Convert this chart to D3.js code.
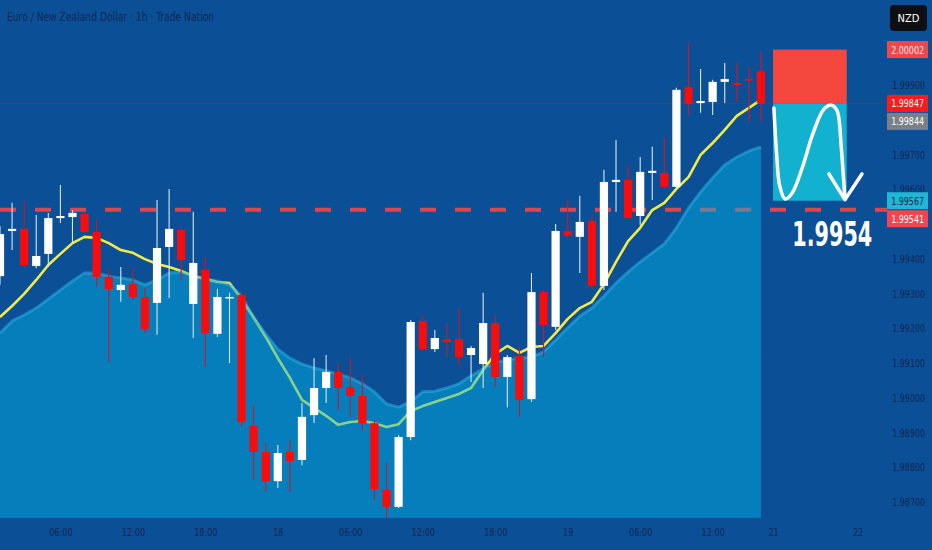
<!DOCTYPE html>
<html>
<head>
<meta charset="utf-8">
<script src="https://cdn.jsdelivr.net/npm/d3@7"></script>
<style>
  html, body { margin: 0; padding: 0; background: #0b4f97; }
  svg { display: block; }
  .narrow { font-family: 'Liberation Sans Narrow', 'DejaVu Sans Condensed', 'Roboto', sans-serif; }
</style>
</head>
<body>
<svg id="chart" width="932" height="550"></svg>
<script>
// ---------------- DATA ----------------
const title = "Euro / New Zealand Dollar · 1h · Trade Nation";
const currency = "NZD";

const candleOpen = [1.99350,1.99480,1.99486,1.99379,1.99414,1.99517,1.99520,1.99529,1.99477,1.99348,
  1.99310,1.99327,1.99290,1.99273,1.99434,1.99483,1.99270,1.99368,1.99184,1.99287,
  1.99296,1.98919,1.98844,1.98760,1.98844,1.98821,1.98950,1.99028,1.99074,1.99031,
  1.99005,1.98927,1.98735,1.98686,1.98887,1.99221,1.99140,1.99169,1.99169,1.99123,
  1.99097,1.99215,1.99060,1.99120,1.98996,1.99304,1.99204,1.99480,1.99463,1.99509,
  1.99322,1.99621,1.99627,1.99523,1.99647,1.99647,1.99607,1.99894,1.99848,1.99851,
  1.99909,1.99906,1.99917,1.99940];
const candleHigh = [1.99494,1.99561,1.99566,1.99526,1.99532,1.99612,1.99540,1.99532,1.99512,1.99368,
  1.99376,1.99373,1.99316,1.99569,1.99601,1.99489,1.99535,1.99405,1.99313,1.99302,
  1.99302,1.98979,1.98870,1.98864,1.98878,1.98985,1.99114,1.99123,1.99100,1.99117,
  1.99066,1.98936,1.98812,1.98893,1.99224,1.99238,1.99195,1.99215,1.99258,1.99149,
  1.99302,1.99238,1.99123,1.99146,1.99359,1.99310,1.99500,1.99569,1.99581,1.99526,
  1.99656,1.99742,1.99670,1.99693,1.99722,1.99750,1.99892,2.00021,1.99946,1.99915,
  1.99963,1.99963,1.99952,1.99998];
const candleLow = [1.99325,1.99425,1.99373,1.99373,1.99376,1.99503,1.99448,1.99474,1.99319,1.99103,
  1.99276,1.99281,1.99186,1.99181,1.99287,1.99339,1.99172,1.99089,1.99175,1.99100,
  1.98916,1.98763,1.98729,1.98740,1.98729,1.98806,1.98927,1.98985,1.98965,1.98945,
  1.98907,1.98706,1.98654,1.98683,1.98878,1.99137,1.99132,1.99117,1.99094,1.99045,
  1.99028,1.99031,1.98973,1.98945,1.98988,1.99117,1.99195,1.99454,1.99359,1.99313,
  1.99310,1.99535,1.99514,1.99497,1.99569,1.99604,1.99601,1.99814,1.99820,1.99814,
  1.99848,1.99851,1.99794,1.99794];
const candleClose = [1.99471,1.99486,1.99382,1.99408,1.99517,1.99523,1.99532,1.99477,1.99348,1.99313,
  1.99325,1.99290,1.99198,1.99431,1.99486,1.99396,1.99388,1.99186,1.99290,1.99290,
  1.98930,1.98844,1.98760,1.98841,1.98818,1.98945,1.99028,1.99074,1.99028,1.99005,
  1.98927,1.98737,1.98686,1.98887,1.99218,1.99140,1.99172,1.99160,1.99117,1.99143,
  1.99215,1.99060,1.99117,1.98994,1.99304,1.99209,1.99480,1.99466,1.99506,1.99322,
  1.99621,1.99627,1.99517,1.99650,1.99653,1.99607,1.99886,1.99845,1.99854,1.99909,
  1.99917,1.99900,1.99915,1.99847];

// fast moving average (yellow line)
const emaFast = [1.99232,1.99264,1.99299,1.99339,1.99382,1.99414,1.99445,1.99463,1.99460,1.99445,
  1.99425,1.99417,1.99399,1.99385,1.99376,1.99365,1.99350,1.99342,1.99333,1.99330,
  1.99284,1.99230,1.99175,1.99114,1.99057,1.98994,1.98971,1.98948,1.98922,1.98930,
  1.98933,1.98927,1.98916,1.98924,1.98962,1.98976,1.98988,1.98999,1.99011,1.99028,
  1.99080,1.99126,1.99149,1.99129,1.99146,1.99149,1.99186,1.99227,1.99258,1.99276,
  1.99327,1.99391,1.99451,1.99489,1.99540,1.99561,1.99601,1.99635,1.99699,1.99733,
  1.99771,1.99811,1.99834,1.99857];
// slow moving average (filled area)
const emaSlow = [1.99186,1.99221,1.99238,1.99258,1.99284,1.99310,1.99336,1.99359,1.99359,1.99350,
  1.99345,1.99339,1.99325,1.99339,1.99359,1.99362,1.99350,1.99342,1.99336,1.99325,
  1.99293,1.99232,1.99184,1.99140,1.99114,1.99097,1.99086,1.99077,1.99068,1.99057,
  1.99040,1.99017,1.98982,1.98973,1.98988,1.99017,1.99019,1.99028,1.99040,1.99063,
  1.99083,1.99100,1.99109,1.99114,1.99117,1.99132,1.99166,1.99201,1.99235,1.99258,
  1.99293,1.99330,1.99362,1.99391,1.99417,1.99443,1.99489,1.99546,1.99592,1.99633,
  1.99670,1.99693,1.99710,1.99722];

const timeTickIndex  = [5, 11, 17, 23, 29, 35, 41, 47, 53, 59, 64, 71];
const timeTickLabels = ["06:00","12:00","18:00","18","06:00","12:00","18:00","19","06:00","12:00","21","22"];

const priceTicks = [1.987,1.988,1.989,1.990,1.991,1.992,1.993,1.994,1.995,1.996,1.997,1.998,1.999,2.000];

// horizontal level (dashed) and last price
const levelPrice = 1.99541;
const lastPrice = 1.99847;

// short position tool
const posStop = 2.00002;
const posEntry = 1.99847;
const posTarget = 1.99567;
const posStartBar = 64;
const posEndBar = 70.1;
const targetText = "1.9954";

// hand-drawn arrow (bar index, price)
const arrowCurve = [[64.07,1.99834],[64.3,1.99700],[64.55,1.99610],[65.0,1.99572],[65.6,1.99590],
  [66.4,1.99660],[67.3,1.99760],[68.2,1.99830],[68.85,1.99842],[69.3,1.99826],[69.65,1.99720],[69.95,1.99575]];
const arrowHead = [[68.63,1.99644],[69.95,1.99570],[71.36,1.99644]];

// price-scale labels
const scaleLabels = [
  {price: 2.00002, text: "2.00002", bg: "#f04848", fg: "#fde8e8"},
  {price: 1.99847, text: "1.99847", bg: "#ff1b1b", fg: "#ffffff"},
  {price: 1.99844, text: "1.99844", bg: "#7b7f88", fg: "#ffffff"},
  {price: 1.99567, text: "1.99567", bg: "#21b6d6", fg: "#0d2a48"},
  {price: 1.99541, text: "1.99541", bg: "#ef4650", fg: "#ffffff"}
];

// ---------------- LAYOUT ----------------
const W = 932, H = 550;
const plotBottom = 518;
const plotRight = 887;
const svg = d3.select("#chart");

const x = d3.scaleLinear().domain([0, 71]).range([0, 857.6]);
const y = d3.scaleLinear().domain([1.987, 1.999]).range([502, 85]);
const step = x(1) - x(0);
const bodyW = step * 0.68;

function condense(sel, factor) {
  sel.each(function () {
    const L = this.getComputedTextLength();
    d3.select(this).attr("textLength", L * factor).attr("lengthAdjust", "spacingAndGlyphs");
  });
}

svg.append("rect").attr("width", W).attr("height", H).attr("fill", "#0b4f97");

const plot = svg.append("g");
plot.append("defs").append("clipPath").attr("id", "clip")
  .append("rect").attr("x", 0).attr("y", 0).attr("width", plotRight).attr("height", plotBottom);
const g = plot.append("g").attr("clip-path", "url(#clip)");

// last price line
g.append("line").attr("x1", 0).attr("x2", plotRight)
  .attr("y1", y(lastPrice)).attr("y2", y(lastPrice))
  .attr("stroke", "#b42a3c").attr("stroke-opacity", 0.45).attr("stroke-width", 1);

// dashed level
g.append("line").attr("x1", 0).attr("x2", plotRight)
  .attr("y1", y(levelPrice)).attr("y2", y(levelPrice))
  .attr("stroke", "#e0444f").attr("stroke-width", 4).attr("stroke-dasharray", "16 19");

const idx = d3.range(candleOpen.length);

// fast MA line
g.append("path").datum(idx)
  .attr("fill", "none").attr("stroke", "#f4ea45").attr("stroke-width", 2.6)
  .attr("stroke-linejoin", "round")
  .attr("d", d3.line().x(i => x(i)).y(i => y(emaFast[i])));

// slow MA area
g.append("path").datum(idx)
  .attr("fill", "#00b8e8").attr("fill-opacity", 0.45)
  .attr("d", d3.area().x(i => x(i)).y0(plotBottom).y1(i => y(emaSlow[i])));
g.append("path").datum(idx)
  .attr("fill", "none").attr("stroke", "#2fb4e6").attr("stroke-opacity", 0.5).attr("stroke-width", 3)
  .attr("d", d3.line().x(i => x(i)).y(i => y(emaSlow[i])));

// candles
const cg = g.append("g");
idx.forEach(i => {
  const up = candleClose[i] >= candleOpen[i];
  const col = up ? "#ffffff" : "#f70d0d";
  const wickCol = up ? "#d8e6f6" : "#c81a28";
  cg.append("line")
    .attr("x1", x(i)).attr("x2", x(i))
    .attr("y1", y(candleHigh[i])).attr("y2", y(candleLow[i]))
    .attr("stroke", wickCol).attr("stroke-width", 1.1);
  const top = y(Math.max(candleOpen[i], candleClose[i]));
  const bot = y(Math.min(candleOpen[i], candleClose[i]));
  cg.append("rect")
    .attr("x", x(i) - bodyW / 2).attr("width", bodyW)
    .attr("y", top).attr("height", Math.max(1.5, bot - top))
    .attr("fill", col);
});

// position tool
g.append("rect")
  .attr("x", x(posStartBar)).attr("width", x(posEndBar) - x(posStartBar))
  .attr("y", y(posStop)).attr("height", y(posEntry) - y(posStop))
  .attr("fill", "#f4473d");
g.append("rect")
  .attr("x", x(posStartBar)).attr("width", x(posEndBar) - x(posStartBar))
  .attr("y", y(posEntry)).attr("height", y(posTarget) - y(posEntry))
  .attr("fill", "#12b1d0");

// drawn arrow
g.append("path").datum(arrowCurve)
  .attr("fill", "none").attr("stroke", "#ffffff").attr("stroke-width", 3.5)
  .attr("stroke-linecap", "round")
  .attr("d", d3.line().x(d => x(d[0])).y(d => y(d[1])).curve(d3.curveCatmullRom));
g.append("path").datum(arrowHead)
  .attr("fill", "none").attr("stroke", "#ffffff").attr("stroke-width", 3.5)
  .attr("stroke-linecap", "round").attr("stroke-linejoin", "round")
  .attr("d", d3.line().x(d => x(d[0])).y(d => y(d[1])));

// target text (condensed with a transform so its box stays true)
const bigG = svg.append("g");
const big = bigG.append("text").attr("class", "narrow")
  .attr("x", 0).attr("y", 0)
  .attr("text-anchor", "middle")
  .attr("font-size", 34).attr("font-weight", 600).attr("fill", "#ffffff")
  .text(targetText);
const bigScale = 80 / big.node().getComputedTextLength();
bigG.attr("transform", `translate(${x(68.9)},246) scale(${bigScale},1)`);

// ---------------- AXES ----------------
// price scale labels with simple collision avoidance
const boxH = 18;
let lastY = -Infinity;
const placed = scaleLabels.map(l => {
  let cy = y(l.price);
  if (cy - lastY < boxH) cy = lastY + boxH;
  lastY = cy;
  return Object.assign({}, l, {cy});
});

// ticks hidden behind price labels are not drawn
const visibleTicks = priceTicks.filter(p => placed.every(l => Math.abs(y(p) - l.cy) >= 10));

const yAxis = d3.axisLeft(y).tickValues(visibleTicks).tickFormat(d3.format(".5f")).tickSize(0).tickPadding(0);
const ya = svg.append("g").attr("transform", "translate(925,0)").call(yAxis);
ya.select(".domain").remove();
ya.selectAll("text").attr("class", "narrow").attr("font-size", 11).attr("fill", "#102754");
condense(ya.selectAll("text"), 0.8);

const xAxis = d3.axisBottom(x).tickValues(timeTickIndex)
  .tickFormat((d, i) => timeTickLabels[i]).tickSize(0).tickPadding(10);
const xa = svg.append("g").attr("transform", `translate(0,${plotBottom})`).call(xAxis);
xa.select(".domain").remove();
xa.selectAll("text").attr("class", "narrow").attr("font-size", 11).attr("fill", "#102754");
condense(xa.selectAll("text"), 0.82);

const lg = svg.append("g");
placed.forEach(l => {
  lg.append("rect").attr("x", plotRight).attr("y", l.cy - boxH / 2 + 0.5)
    .attr("width", 41).attr("height", boxH - 1).attr("fill", l.bg);
  const t = lg.append("text").attr("class", "narrow")
    .attr("x", 924).attr("y", l.cy + 4)
    .attr("text-anchor", "end").attr("font-size", 11).attr("fill", l.fg)
    .text(l.text);
  condense(t, 0.8);
});

// currency badge
svg.append("rect").attr("x", 890).attr("y", 5).attr("width", 37).attr("height", 26)
  .attr("rx", 4).attr("fill", "#0e0f12");
svg.append("text").attr("class", "narrow").attr("x", 908.5).attr("y", 22)
  .attr("text-anchor", "middle").attr("font-size", 11).attr("fill", "#ffffff").text(currency);

// title
const tt = svg.append("text").attr("class", "narrow").attr("x", 7).attr("y", 21)
  .attr("font-size", 12).attr("fill", "#0f2853").text(title);
condense(tt, 0.85);
</script>
</body>
</html>
